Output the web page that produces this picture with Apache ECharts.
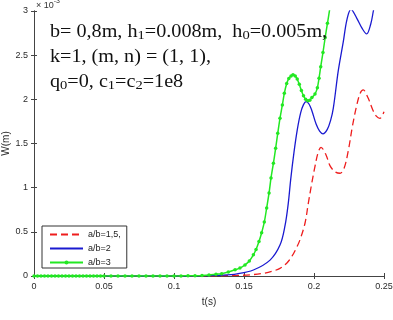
<!doctype html>
<html>
<head>
<meta charset="UTF-8">
<title>W(t)</title>
<script src="https://cdn.jsdelivr.net/npm/echarts@6/dist/echarts.min.js"></script>
<style>
  html, body { margin: 0; padding: 0; background: #fff; }
  #main { width: 393px; height: 320px; }
</style>
</head>
<body>
<div id="main"></div>
<script>
// tick values
var xTicks = [0, 0.05, 0.1, 0.15, 0.2, 0.25];
var yTicks = [0, 0.5, 1, 1.5, 2, 2.5, 3];   // x 1e-3

var names = ['a/b=1,5,', 'a/b=2', 'a/b=3'];

// a/b=1,5  (red dashed)
var tRed = [0, 0.05, 0.1, 0.13, 0.145, 0.155, 0.1638, 0.1705, 0.1757, 0.1805, 0.1841, 0.1875, 0.19, 0.1936,
  0.1959, 0.1984, 0.2007, 0.2028, 0.205, 0.2086, 0.2114, 0.215, 0.2186, 0.2215, 0.2245, 0.2275, 0.2305,
  0.233, 0.2352, 0.2385, 0.242, 0.2445, 0.2471, 0.25];
var wRed = [0, 0, 0, 0.002, 0.006, 0.014, 0.03, 0.055, 0.087, 0.145, 0.22, 0.32, 0.41, 0.6,
  0.82, 1.05, 1.24, 1.39, 1.457, 1.37, 1.25, 1.18, 1.163, 1.22, 1.42, 1.7, 1.93,
  2.07, 2.106, 2.02, 1.88, 1.81, 1.785, 1.86];

// a/b=2  (blue solid)
var tBlue = [0, 0.05, 0.1, 0.12, 0.135, 0.145, 0.1567, 0.1686, 0.1757, 0.1793, 0.1816, 0.1834, 0.1857,
  0.1881, 0.1905, 0.1925, 0.1943, 0.1963, 0.1983, 0.2015, 0.2040, 0.2064, 0.2095, 0.212, 0.2138, 0.2174,
  0.2209, 0.2235, 0.2264, 0.2305, 0.2345, 0.2376, 0.2405, 0.2424, 0.2448];
var wBlue = [0, 0, 0, 0.003, 0.01, 0.025, 0.068, 0.18, 0.35, 0.57, 0.82, 1.1, 1.4,
  1.66, 1.85, 1.94, 1.975, 1.95, 1.88, 1.72, 1.64, 1.61, 1.66, 1.77, 1.9, 2.33,
  2.65, 2.9, 3.02, 2.92, 2.8, 2.74, 2.85, 3.0, 3.2];

// a/b=3  (green with markers)
var tGreen = [0, 0.0025, 0.005, 0.0075, 0.01, 0.0125, 0.015, 0.0175, 0.02, 0.0225, 0.025, 0.0275, 0.03,
  0.0325, 0.035, 0.0375, 0.04, 0.0425, 0.045, 0.0475, 0.05, 0.055, 0.06, 0.065, 0.07, 0.075, 0.08,
  0.085, 0.09, 0.095, 0.1, 0.105, 0.11, 0.115, 0.12, 0.125, 0.13, 0.134, 0.1388, 0.1436, 0.1471,
  0.1507, 0.1538, 0.1567, 0.1586, 0.1607, 0.1626, 0.1645, 0.1662, 0.1679, 0.1693, 0.171, 0.1726,
  0.1741, 0.1757, 0.1774, 0.1788, 0.1805, 0.182, 0.1836, 0.185, 0.1866, 0.188, 0.1895, 0.191, 0.1925,
  0.194, 0.1955, 0.197, 0.1985, 0.2007, 0.2024, 0.2036, 0.2048, 0.2064, 0.208, 0.2096, 0.2112, 0.2128];
var wGreen = [0, 0, 0, 0, 0, 0, 0, 0, 0, 0, 0, 0, 0,
  0, 0, 0, 0, 0, 0, 0, 0, 0, 0, 0, 0, 0, 0,
  0, 0, 0, 0, 0.001, 0.002, 0.004, 0.007, 0.012, 0.02, 0.026, 0.045, 0.07, 0.09,
  0.125, 0.17, 0.24, 0.3, 0.39, 0.49, 0.61, 0.77, 0.94, 1.11, 1.276, 1.446,
  1.615, 1.785, 1.936, 2.068, 2.18, 2.235, 2.265, 2.278, 2.265, 2.23, 2.17, 2.1, 2.04,
  2.0, 1.985, 1.99, 2.02, 2.06, 2.13, 2.24, 2.37, 2.53, 2.7, 2.86, 3.02, 3.2];

function pairs(t, w) {
  var out = [];
  for (var i = 0; i < t.length; i++) out.push([t[i], w[i]]);
  return out;
}

var axisColor = '#444';
var labelColor = '#2a2a2a';
var sans = 'Liberation Sans, Arial, Helvetica, sans-serif';
var serif = 'Liberation Serif, Times New Roman, serif';
var hidden = { color: 'rgba(0,0,0,0)', opacity: 0, borderWidth: 0 };

var myChart = echarts.init(document.getElementById('main'), null, { renderer: 'canvas' });

var option = {
  animation: false,
  backgroundColor: '#fff',
  grid: { left: 34, right: 9, top: 11, bottom: 44, containLabel: false, outerBoundsMode: 'none' },
  xAxis: [{
    type: 'value',
    min: xTicks[0], max: xTicks[xTicks.length - 1], interval: 0.05,
    name: 't(s)', nameLocation: 'middle', nameGap: 21, nameMoveOverlap: false,
    nameTextStyle: { fontSize: 10, color: labelColor, fontFamily: sans },
    axisLine: { lineStyle: { color: axisColor, width: 1 } },
    axisTick: { inside: true, length: 3, lineStyle: { color: axisColor } },
    axisLabel: { fontSize: 9, color: labelColor, fontFamily: sans, margin: 6 },
    splitLine: { show: false }
  }, {
    type: 'value', position: 'top',
    min: xTicks[0], max: xTicks[xTicks.length - 1], interval: 0.05,
    axisLine: { show: true, lineStyle: { color: axisColor, width: 1 } },
    axisTick: { inside: true, length: 3, lineStyle: { color: axisColor } },
    axisLabel: { show: false },
    splitLine: { show: false }
  }],
  yAxis: [{
    type: 'value',
    min: yTicks[0], max: yTicks[yTicks.length - 1], interval: 0.5,
    name: 'W(m)', nameLocation: 'middle', nameGap: 23, nameMoveOverlap: false,
    nameTextStyle: { fontSize: 10, color: labelColor, fontFamily: sans },
    axisLine: { show: true, lineStyle: { color: axisColor, width: 1 } },
    axisTick: { show: true, inside: true, length: 3, lineStyle: { color: axisColor } },
    axisLabel: { fontSize: 9, color: labelColor, fontFamily: sans, margin: 6 },
    splitLine: { show: false }
  }, {
    type: 'value', position: 'right',
    min: yTicks[0], max: yTicks[yTicks.length - 1], interval: 0.5,
    axisLine: { show: true, lineStyle: { color: axisColor, width: 1 } },
    axisTick: { show: true, inside: true, length: 3, lineStyle: { color: axisColor } },
    axisLabel: { show: false },
    splitLine: { show: false }
  }],
  legend: {
    orient: 'vertical',
    left: 42, top: 226,
    padding: [4, 6, 1, 7],
    itemWidth: 33, itemHeight: 5, itemGap: 5,
    borderColor: '#333', borderWidth: 1,
    backgroundColor: '#fff',
    textStyle: { fontSize: 9, color: '#222', fontFamily: sans },
    data: [
      { name: names[0], itemStyle: hidden },
      { name: names[1], itemStyle: hidden },
      { name: names[2] }
    ]
  },
  graphic: [{
    type: 'text', left: 50, top: 23, z: 100,
    scaleX: 1.12,
    style: {
      text: '{m|b= 0,8m, h}{s|1}{m|=0.008m,  h}{s|0}{m|=0.005m,}\n' +
            '{m|k=1, (m, n) = (1, 1),}\n' +
            '{m|q}{s|0}{m|=0, c}{s|1}{m|=c}{s|2}{m|=1e8}',
      rich: {
        m: { fontSize: 18, fontFamily: serif, fill: '#111', lineHeight: 25, verticalAlign: 'middle' },
        s: { fontSize: 13, fontFamily: serif, fill: '#111', lineHeight: 14, padding: [6, 0, 0, 0], verticalAlign: 'middle' }
      }
    }
  }, {
    type: 'text', left: 36, top: -2, z: 100,
    style: {
      text: '{a|\u00d7 10}{b|-3}',
      rich: {
        a: { fontSize: 9, fontFamily: sans, fill: '#333', lineHeight: 12, verticalAlign: 'bottom' },
        b: { fontSize: 7, fontFamily: sans, fill: '#333', lineHeight: 12, verticalAlign: 'top' }
      }
    }
  }],
  series: [{
    name: names[0], type: 'line',
    data: pairs(tRed, wRed),
    smooth: 0.35, symbol: 'none', clip: true,
    lineStyle: { color: '#ee1d1d', width: 1.3, type: [7, 4] },
    itemStyle: { color: '#ee1d1d' }
  }, {
    name: names[1], type: 'line',
    data: pairs(tBlue, wBlue),
    smooth: 0.35, symbol: 'none', clip: true,
    lineStyle: { color: '#1a1ad0', width: 1.3 },
    itemStyle: { color: '#1a1ad0' }
  }, {
    name: names[2], type: 'line',
    data: pairs(tGreen, wGreen),
    smooth: 0.3, symbol: 'circle', symbolSize: 3.5, showSymbol: true, clip: true,
    lineStyle: { color: '#22e822', width: 1.5 },
    itemStyle: { color: '#22e822' }
  }]
};

myChart.setOption(option);
</script>
</body>
</html>
